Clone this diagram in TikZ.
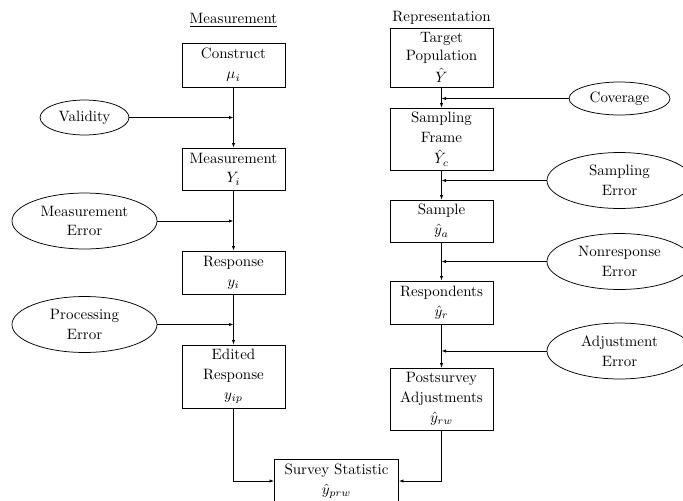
\documentclass[tikz,border=0pt]{standalone}
\usetikzlibrary{shapes.geometric,arrows.meta}
\begin{document}
\begin{tikzpicture}[x=0.6667pt,y=-0.6667pt,
  box/.style={draw,line width=0.5pt,rectangle,align=center,inner sep=0pt,minimum width=68.7pt},
  ell/.style={draw,line width=0.5pt,ellipse,align=center,inner sep=0pt},
  bigell/.style={ell,minimum width=96.7pt,minimum height=37.3pt},
  conn/.style={line width=0.5pt,-{Latex[length=3pt,width=2.2pt]}}]
\useasboundingbox (0,0) rectangle (683,500);
\clip (0,0) rectangle (683,500);
% titles
\node (tm) at (233.5,20) {\underline{Measurement}};
\node (tr) at (441.5,18) {Representation};
% left column
\node[box,minimum height=29.3pt] (con) at (233.5,65) {Construct\\[1.5pt]$\mu_i$};
\node[box,minimum height=28pt] (mea) at (233.5,169) {Measurement\\[1pt]$Y_i$};
\node[box,minimum height=28.7pt] (res) at (233.5,272.5) {Response\\[1.5pt]$y_i$};
\node[box,minimum height=42pt] (edi) at (233.5,376.5) {Edited\\[1pt]Response\\[1.5pt]$y_{ip}$};
% right column
\node[box,minimum height=39.3pt] (tar) at (441.5,57.5) {Target\\[0pt]Population\\[2.5pt]$\hat{Y}$};
\node[box,minimum height=41.3pt] (fra) at (441.5,139) {Sampling\\[1pt]Frame\\[2.5pt]$\hat{Y}_c$};
\node[box,minimum height=28pt] (sam) at (441.5,221) {Sample\\[1.5pt]$\hat{y}_a$};
\node[box,minimum height=28.7pt] (rsp) at (441.5,302.5) {Respondents\\[1.5pt]$\hat{y}_r$};
\node[box,minimum height=41.3pt] (pos) at (441.5,399) {Postsurvey\\[1pt]Adjustments\\[1.5pt]$\hat{y}_{rw}$};
% survey statistic
\node[box,minimum width=82.7pt,minimum height=29.3pt] (sur) at (336.5,481) {Survey Statistic\\[1.5pt]$\hat{y}_{prw}$};
% ellipses
\node[ell,minimum width=59.3pt,minimum height=23.3pt] (val) at (84.5,117.5) {Validity};
\node[bigell] (mer) at (84.5,221) {Measurement\\[1pt]Error};
\node[bigell] (per) at (84.5,324.5) {Processing\\[1pt]Error};
\node[ell,minimum width=67.3pt,minimum height=22pt] (cov) at (619.5,98.5) {Coverage};
\node[bigell] (ser) at (619.5,180.5) {Sampling\\[1pt]Error};
\node[bigell] (ner) at (619.5,261.5) {Nonresponse\\[1pt]Error};
\node[bigell] (aer) at (619.5,351) {Adjustment\\[1pt]Error};
% vertical connectors
\draw[conn] (con.south) -- (mea.north);
\draw[conn] (mea.south) -- (res.north);
\draw[conn] (res.south) -- (edi.north);
\draw[conn] (tar.south) -- (fra.north);
\draw[conn] (fra.south) -- (sam.north);
\draw[conn] (sam.south) -- (rsp.north);
\draw[conn] (rsp.south) -- (pos.north);
\draw[conn] (edi.south) |- (sur.west);
\draw[conn] (pos.south) |- (sur.east);
% error connectors
\draw[conn] (val.east) -- (val.east -| con.south);
\draw[conn] (mer.east) -- (mer.east -| con.south);
\draw[conn] (per.east) -- (per.east -| con.south);
\draw[conn] (cov.west) -- (cov.west -| tar.south);
\draw[conn] (ser.west) -- (ser.west -| tar.south);
\draw[conn] (ner.west) -- (ner.west -| tar.south);
\draw[conn] (aer.west) -- (aer.west -| tar.south);
\end{tikzpicture}
\end{document}
